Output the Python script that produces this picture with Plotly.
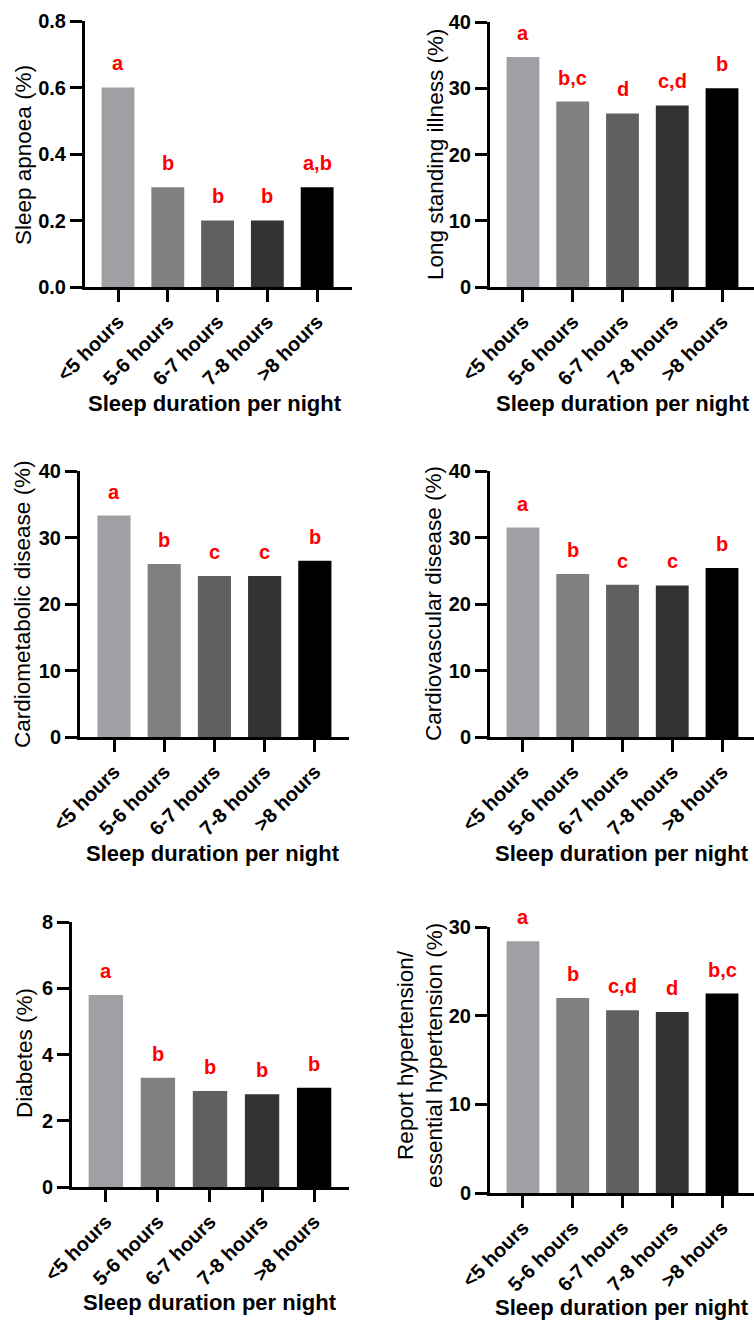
import plotly.graph_objects as go

W, H = 754, 1320

# ---- data -------------------------------------------------------------
categories = ["<5 hours", "5-6 hours", "6-7 hours", "7-8 hours", ">8 hours"]
bar_colors = ["#A0A0A4", "#808080", "#606060", "#333333", "#000000"]

sleep_apnoea = [0.6, 0.3, 0.2, 0.2, 0.3]
sleep_apnoea_letters = ["a", "b", "b", "b", "a,b"]

long_standing_illness = [34.7, 28.0, 26.2, 27.4, 30.0]
long_standing_letters = ["a", "b,c", "d", "c,d", "b"]

cardiometabolic = [33.3, 26.0, 24.2, 24.2, 26.5]
cardiometabolic_letters = ["a", "b", "c", "c", "b"]

cardiovascular = [31.5, 24.5, 22.9, 22.8, 25.4]
cardiovascular_letters = ["a", "b", "c", "c", "b"]

diabetes = [5.8, 3.3, 2.9, 2.8, 3.0]
diabetes_letters = ["a", "b", "b", "b", "b"]

hypertension = [28.4, 22.0, 20.6, 20.4, 22.5]
hypertension_letters = ["a", "b", "c,d", "d", "b,c"]

x_title = "Sleep duration per night"

# ---- panel layout (pixel geometry) -------------------------------------
panels = [
    dict(values=sleep_apnoea, letters=sleep_apnoea_letters,
         ytitle="Sleep apnoea (%)", ymax=0.8, dtick=0.2, fmt=".1f",
         px=(85, 352), py=(21, 287), xr=(-0.663, 4.70),
         yt=(23, 155), xt=(215, 403)),
    dict(values=long_standing_illness, letters=long_standing_letters,
         ytitle="Long standing illness (%)", ymax=40, dtick=10, fmt="d",
         px=(490, 754), py=(22, 287), xr=(-0.663, 4.643),
         yt=(435, 154), xt=(623, 403)),
    dict(values=cardiometabolic, letters=cardiometabolic_letters,
         ytitle="Cardiometabolic disease (%)", ymax=40, dtick=10, fmt="d",
         px=(80, 349), py=(471, 737), xr=(-0.677, 4.68),
         yt=(23, 604), xt=(213, 853)),
    dict(values=cardiovascular, letters=cardiovascular_letters,
         ytitle="Cardiovascular disease (%)", ymax=40, dtick=10, fmt="d",
         px=(490, 754), py=(471, 737), xr=(-0.663, 4.643),
         yt=(434, 604), xt=(622, 853)),
    dict(values=diabetes, letters=diabetes_letters,
         ytitle="Diabetes (%)", ymax=8, dtick=2, fmt="d",
         px=(72, 349), py=(922, 1187), xr=(-0.65, 4.67),
         yt=(24, 1053), xt=(210, 1302)),
    dict(values=hypertension, letters=hypertension_letters,
         ytitle="Report hypertension/<br>essential hypertension (%)",
         ymax=30, dtick=10, fmt="d",
         px=(490, 754), py=(927, 1193), xr=(-0.663, 4.643),
         yt=(420, 1056), xt=(622, 1307)),
]

FONT = "Liberation Sans, Arial, sans-serif"

fig = go.Figure()
annotations = []
layout = dict(
    width=W, height=H,
    margin=dict(l=0, r=0, t=0, b=0, autoexpand=False),
    paper_bgcolor="white", plot_bgcolor="white",
    showlegend=False,
    bargap=0.34,
)

for i, p in enumerate(panels):
    n = "" if i == 0 else str(i + 1)
    xa, ya = "x" + n, "y" + n

    fig.add_trace(go.Bar(
        x=categories, y=p["values"],
        marker=dict(color=bar_colors, line=dict(width=0)),
        xaxis=xa, yaxis=ya, hoverinfo="x+y",
    ))

    layout["xaxis" + n] = dict(
        domain=[p["px"][0] / W, p["px"][1] / W],
        anchor=ya, type="category", range=list(p["xr"]),
        automargin=False,
        showline=True, linecolor="black", linewidth=3,
        ticks="outside", ticklen=12, tickwidth=3, tickcolor="black",
        tickangle=-45, showgrid=False, zeroline=False,
        tickfont=dict(family=FONT, size=20, color="black", weight="bold"),
    )
    layout["yaxis" + n] = dict(
        domain=[1 - p["py"][1] / H, 1 - p["py"][0] / H],
        anchor=xa, range=[0, p["ymax"]], dtick=p["dtick"], tick0=0,
        tickformat=p["fmt"], automargin=False,
        showline=True, linecolor="black", linewidth=3,
        ticks="outside", ticklen=12, tickwidth=3, tickcolor="black",
        showgrid=False, zeroline=False,
        tickfont=dict(family=FONT, size=20, color="black", weight="bold"),
    )

    # significance letters above each bar
    for cat, v, lab in zip(categories, p["values"], p["letters"]):
        annotations.append(dict(
            x=cat, y=v, xref=xa, yref=ya, text=lab, showarrow=False,
            yshift=24, yanchor="middle", xanchor="center",
            font=dict(family=FONT, size=20, color="#FF0000", weight="bold"),
        ))

    # y-axis title
    annotations.append(dict(
        x=p["yt"][0] / W, y=1 - p["yt"][1] / H, xref="paper", yref="paper",
        text=p["ytitle"], textangle=-90, showarrow=False,
        xanchor="center", yanchor="middle",
        font=dict(family=FONT, size=22.5, color="black"),
    ))

    # x-axis title
    annotations.append(dict(
        x=p["xt"][0] / W, y=1 - p["xt"][1] / H, xref="paper", yref="paper",
        text=x_title, showarrow=False, xanchor="center", yanchor="middle",
        font=dict(family=FONT, size=22, color="black", weight="bold"),
    ))

layout["annotations"] = annotations
fig.update_layout(**layout)

fig.write_html("out.html")
